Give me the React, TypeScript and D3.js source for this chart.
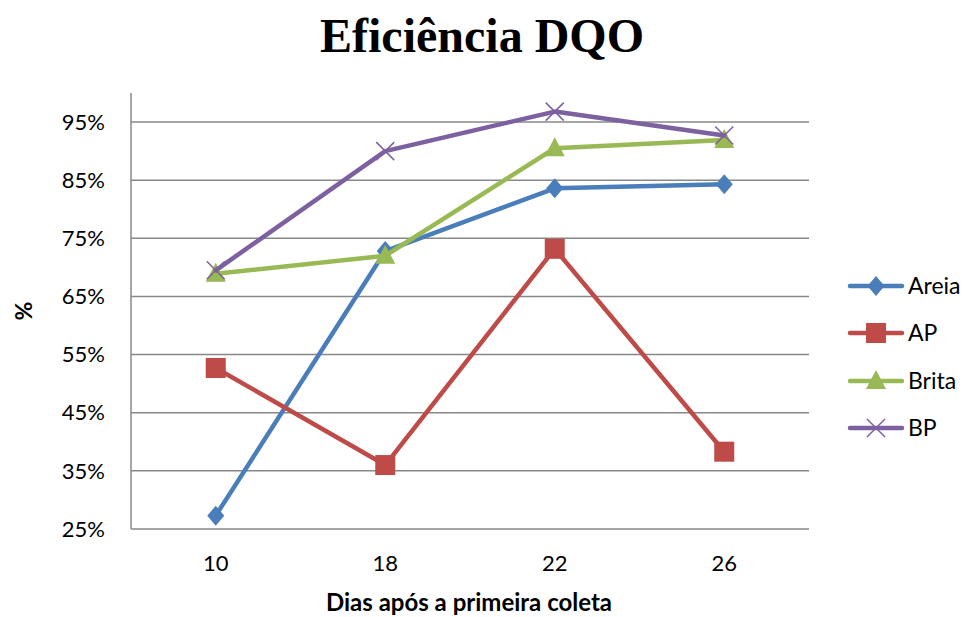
import React from "react";
import * as d3 from "d3";

const categories = ["10", "18", "22", "26"];
const seriesNames = ["Areia", "AP", "Brita", "BP"];
const areia = [27.3, 72.8, 83.6, 84.3];
const ap = [52.7, 36.0, 73.2, 38.3];
const brita = [68.9, 72.0, 90.5, 91.9];
const bp = [69.5, 90.0, 96.8, 92.7];
const yTicks = [25, 35, 45, 55, 65, 75, 85, 95];
const colors = ["#4A7EBB", "#BE4B48", "#98B954", "#7D60A0"];
const markers = ["diamond", "square", "triangle", "x"];

const W = 967, H = 617;
const left = 131, right = 809, top = 93, bottom = 529;

function Marker({ type, x, y, color }: { type: string; x: number; y: number; color: string }) {
  if (type === "diamond") {
    const s = 10;
    return <path d={`M${x},${y - s}L${x + s * 0.85},${y}L${x},${y + s}L${x - s * 0.85},${y}Z`} fill={color} />;
  }
  if (type === "square") {
    return <rect x={x - 10} y={y - 10} width={20} height={20} fill={color} />;
  }
  if (type === "triangle") {
    return <path d={`M${x},${y - 11}L${x + 10},${y + 8}L${x - 10},${y + 8}Z`} fill={color} />;
  }
  return (
    <path d={`M${x - 9},${y - 9}L${x + 9},${y + 9}M${x - 9},${y + 9}L${x + 9},${y - 9}`} stroke={color} strokeWidth={1.5} fill="none" />
  );
}

export default function App() {
  const data = [areia, ap, brita, bp];
  const x = d3.scaleBand<string>().domain(categories).range([left, right]);
  const y = d3.scaleLinear().domain([25, 100]).range([bottom, top]);
  const line = d3
    .line<number>()
    .x((_, i) => (x(categories[i]) as number) + x.bandwidth() / 2)
    .y((d) => y(d));
  const font = "Lato, 'Open Sans', sans-serif";
  const legendY = [286, 333, 381, 428];

  return (
    <svg width={W} height={H} style={{ position: "absolute", left: 0, top: 0, background: "#fff" }}>
      <text x={482} y={52} textAnchor="middle" fontFamily="'Liberation Serif', 'Times New Roman', serif" fontWeight="bold" fontSize={48}>
        Eficiência DQO
      </text>
      {yTicks.map((t) => (
        <g key={t}>
          <line x1={left} x2={right} y1={y(t)} y2={y(t)} stroke="#888" strokeWidth={1.5} />
          <text x={105} y={y(t)} dy="0.35em" textAnchor="end" fontFamily={font} fontSize={22} fill="#000">
            {t}%
          </text>
        </g>
      ))}
      <line x1={left} x2={left} y1={top} y2={bottom} stroke="#888" strokeWidth={1.5} />
      {categories.map((c) => (
        <text key={c} x={(x(c) as number) + x.bandwidth() / 2} y={571} textAnchor="middle" fontFamily={font} fontSize={22} fill="#000">
          {c}
        </text>
      ))}
      <text x={469} y={611} textAnchor="middle" fontFamily={font} fontWeight="bold" fontSize={24}>
        Dias após a primeira coleta
      </text>
      <text transform={`translate(32,311) rotate(-90)`} textAnchor="middle" fontFamily={font} fontWeight="bold" fontSize={23}>
        %
      </text>
      {data.map((vals, si) => (
        <g key={si}>
          <path d={line(vals) || ""} fill="none" stroke={colors[si]} strokeWidth={4.5} strokeLinejoin="round" strokeLinecap="round" />
          {vals.map((v, i) => (
            <Marker key={i} type={markers[si]} x={(x(categories[i]) as number) + x.bandwidth() / 2} y={y(v)} color={colors[si]} />
          ))}
        </g>
      ))}
      {seriesNames.map((n, si) => (
        <g key={n}>
          <line x1={850} x2={902} y1={legendY[si]} y2={legendY[si]} stroke={colors[si]} strokeWidth={4.5} strokeLinecap="round" />
          <Marker type={markers[si]} x={876} y={legendY[si]} color={colors[si]} />
          <text x={908} y={legendY[si]} dy="0.35em" fontFamily={font} fontSize={23}>
            {n}
          </text>
        </g>
      ))}
    </svg>
  );
}
